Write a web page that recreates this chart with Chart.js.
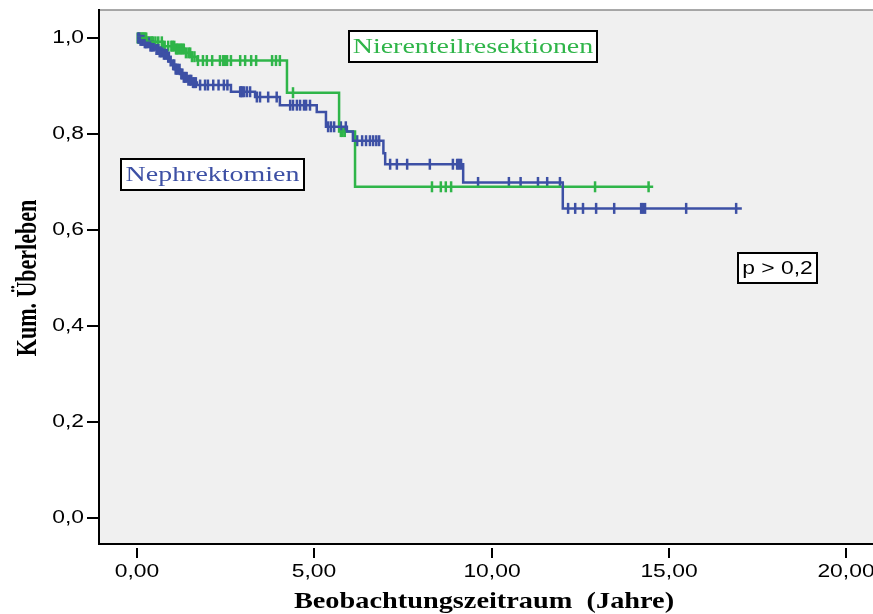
<!DOCTYPE html>
<html lang="de">
<head>
    <meta charset="UTF-8">
    <title>Kum. Überleben</title>
    <script src="https://cdn.jsdelivr.net/npm/chart.js"></script>
    <style>
        body { margin: 0; background: #ffffff; }
        #chart { display: block; }
    </style>
</head>
<body>
    <canvas id="chart" width="873" height="614"></canvas>
    <script>
        // Tick labels
        const xTicks = [0, 5, 10, 15, 20];
        const xTickLabels = ['0,00', '5,00', '10,00', '15,00', '20,00'];
        const yTicks = [0, 0.2, 0.4, 0.6, 0.8, 1.0];
        const yTickLabels = ['0,0', '0,2', '0,4', '0,6', '0,8', '1,0'];

        // Nierenteilresektionen (green): step times and survival after each step
        const greenTimes = [0, 0.28, 0.73, 1.07, 1.35, 1.55, 1.69, 4.23, 5.70, 6.15, 14.56];
        const greenSurv  = [1.0, 0.992, 0.983, 0.977, 0.969, 0.961, 0.953, 0.886, 0.805, 0.690, 0.690];
        const greenCensored = [0.02, 0.04, 0.06, 0.08, 0.10, 0.13, 0.15, 0.17, 0.19, 0.21, 0.24, 0.26, 0.30,
            0.34, 0.38, 0.42, 0.45, 0.52, 0.60, 0.70, 0.78, 0.88, 0.97, 1.00, 1.05, 1.10, 1.12, 1.16,
            1.20, 1.24, 1.28, 1.32, 1.38, 1.45, 1.50, 1.55, 1.62, 1.72, 1.86, 1.97,
            2.12, 2.34, 2.43, 2.48, 2.54, 2.65, 2.91, 3.05, 3.22, 3.36, 3.81, 3.92, 4.03, 4.40,
            5.75, 5.80, 5.86, 8.32, 8.57, 8.71, 8.86, 12.92, 14.43];

        // Nephrektomien (blue)
        const blueTimes = [0, 0.08, 0.20, 0.37, 0.50, 0.62, 0.75, 0.85, 0.92, 0.99, 1.08, 1.21, 1.32, 1.45,
            1.58, 1.69, 2.65, 3.33, 4.03, 5.07, 5.33, 5.92, 6.09, 6.95, 7.00, 9.20, 12.01, 17.06];
        const blueSurv  = [1.0, 0.995, 0.990, 0.983, 0.976, 0.971, 0.966, 0.960, 0.952, 0.944, 0.935, 0.925,
            0.918, 0.912, 0.907, 0.902, 0.888, 0.877, 0.860, 0.846, 0.815, 0.805, 0.786, 0.760, 0.737,
            0.699, 0.645, 0.645];
        const blueCensored = [0.03, 0.06, 0.10, 0.14, 0.18, 0.22, 0.25, 0.28, 0.33, 0.38, 0.42, 0.47, 0.55,
            0.60, 0.64, 0.68, 0.72, 0.76, 0.80, 0.84, 0.88, 0.90, 0.95, 1.02, 1.05, 1.09, 1.12, 1.15,
            1.20, 1.25, 1.28, 1.32, 1.36, 1.40, 1.45, 1.50, 1.53, 1.58, 1.62, 1.66, 1.78, 1.92,
            2.00, 2.15, 2.30, 2.45, 2.55, 2.91, 2.94, 2.97, 3.02, 3.10, 3.19, 3.38, 3.47, 3.70, 3.94,
            4.32, 4.40, 4.51, 4.60, 4.71, 4.77, 4.88, 5.39, 5.47, 5.56, 5.75, 5.89,
            6.21, 6.35, 6.46, 6.57, 6.66, 6.75, 6.83, 7.14, 7.33, 7.62, 8.26, 8.91, 9.03, 9.08, 9.14,
            9.62, 10.49, 10.82, 11.31, 11.57, 11.93, 12.16, 12.36, 12.58, 12.95, 13.46,
            14.22, 14.27, 14.33, 15.49, 16.90];

        const blue = '#3d50a5';
        const green = '#2fb549';
        const stretch = 1.27; // the source picture is stretched horizontally

        function survAt(times, surv, t) {
            let s = surv[0];
            for (let i = 0; i < times.length; i++) {
                if (times[i] <= t) s = surv[i];
            }
            return s;
        }
        const stepPoints = (times, surv) => times.map((t, i) => ({ x: t, y: surv[i] }));
        const censorPoints = (cens, times, surv) => cens.map(t => ({ x: t, y: survAt(times, surv, t) }));

        function text(ctx, str, x, y, font, color, align, sx) {
            ctx.save();
            ctx.translate(x, y);
            ctx.scale(sx, 1);
            ctx.font = font;
            ctx.fillStyle = color;
            ctx.textAlign = align;
            ctx.textBaseline = 'middle';
            ctx.fillText(str, 0, 0);
            ctx.restore();
        }

        function labelBox(ctx, str, x1, y1, x2, y2, font, color) {
            ctx.save();
            ctx.fillStyle = '#ffffff';
            ctx.fillRect(x1, y1, x2 - x1, y2 - y1);
            ctx.strokeStyle = '#000000';
            ctx.lineWidth = 2;
            ctx.strokeRect(x1, y1, x2 - x1, y2 - y1);
            ctx.restore();
            text(ctx, str, (x1 + x2) / 2, (y1 + y2) / 2 + 1, font, color, 'center', stretch);
        }

        const decor = {
            id: 'decor',
            beforeDraw(chart) {
                const ctx = chart.ctx, a = chart.chartArea;
                ctx.save();
                ctx.fillStyle = '#ffffff';
                ctx.fillRect(0, 0, chart.width, chart.height);
                ctx.fillStyle = '#f0f0f0';
                ctx.fillRect(a.left, a.top, a.right - a.left, a.bottom - a.top);
                ctx.strokeStyle = '#8c8c8c';
                ctx.lineWidth = 1.5;
                ctx.beginPath();
                ctx.moveTo(a.left, a.top);
                ctx.lineTo(a.right, a.top);
                ctx.stroke();
                ctx.restore();
            },
            afterDraw(chart) {
                const ctx = chart.ctx, a = chart.chartArea;
                const xs = chart.scales.x, ys = chart.scales.y;
                ctx.save();
                ctx.strokeStyle = '#000000';
                ctx.lineWidth = 2;
                yTicks.forEach((v, i) => {
                    const py = Math.round(ys.getPixelForValue(v));
                    ctx.beginPath();
                    ctx.moveTo(a.left - 12, py);
                    ctx.lineTo(a.left, py);
                    ctx.stroke();
                    text(ctx, yTickLabels[i], a.left - 15, py, '18px "Liberation Sans"', '#000', 'right', stretch);
                });
                xTicks.forEach((v, i) => {
                    const px = Math.round(xs.getPixelForValue(v));
                    ctx.beginPath();
                    ctx.moveTo(px, a.bottom + 4);
                    ctx.lineTo(px, a.bottom + 14);
                    ctx.stroke();
                    text(ctx, xTickLabels[i], px, a.bottom + 28, '18px "Liberation Sans"', '#000', 'center', stretch);
                });
                ctx.restore();

                // axis titles
                text(ctx, 'Beobachtungszeitraum  (Jahre)', 484, 602, 'bold 24px "Liberation Serif"', '#000', 'center', 1.18);
                ctx.save();
                ctx.translate(28, 278);
                ctx.rotate(-Math.PI / 2);
                ctx.scale(1, 1.35);
                ctx.font = 'bold 22px "Liberation Serif"';
                ctx.fillStyle = '#000';
                ctx.textAlign = 'center';
                ctx.textBaseline = 'middle';
                ctx.fillText('Kum. Überleben', 0, 0);
                ctx.restore();

                // group labels and p value
                labelBox(ctx, 'Nierenteilresektionen', 349, 31, 597, 62, '22px "Liberation Serif"', green);
                labelBox(ctx, 'Nephrektomien', 121, 159, 304, 190, '22px "Liberation Serif"', blue);
                labelBox(ctx, 'p > 0,2', 738, 253, 817, 283, '18px "Liberation Sans"', '#000');
            }
        };

        new Chart(document.getElementById('chart'), {
            type: 'line',
            data: {
                datasets: [
                    { data: stepPoints(blueTimes, blueSurv), borderColor: blue, borderWidth: 2.5,
                      stepped: 'before', pointRadius: 0, fill: false },
                    { data: stepPoints(greenTimes, greenSurv), borderColor: green, borderWidth: 2.5,
                      stepped: 'before', pointRadius: 0, fill: false },
                    { data: censorPoints(blueCensored, blueTimes, blueSurv), showLine: false,
                      pointStyle: 'line', pointRotation: 90, pointRadius: 5.5, pointBorderWidth: 2.5,
                      pointBorderColor: blue, borderColor: blue },
                    { data: censorPoints(greenCensored, greenTimes, greenSurv), showLine: false,
                      pointStyle: 'line', pointRotation: 90, pointRadius: 5.5, pointBorderWidth: 2.5,
                      pointBorderColor: green, borderColor: green }
                ]
            },
            options: {
                responsive: false,
                animation: false,
                devicePixelRatio: 1,
                layout: { autoPadding: false, padding: { top: 10, right: 0, left: 0, bottom: 0 } },
                plugins: { legend: { display: false }, tooltip: { enabled: false } },
                scales: {
                    x: {
                        type: 'linear', min: -1.072, max: 20.76,
                        grid: { display: false },
                        border: { display: true, color: '#000', width: 2 },
                        ticks: { display: false },
                        afterFit: s => { s.height = 70; }
                    },
                    y: {
                        min: -0.0542, max: 1.0583,
                        grid: { display: false },
                        border: { display: true, color: '#000', width: 2 },
                        ticks: { display: false },
                        afterFit: s => { s.width = 99; }
                    }
                }
            },
            plugins: [decor]
        });
    </script>
</body>
</html>
